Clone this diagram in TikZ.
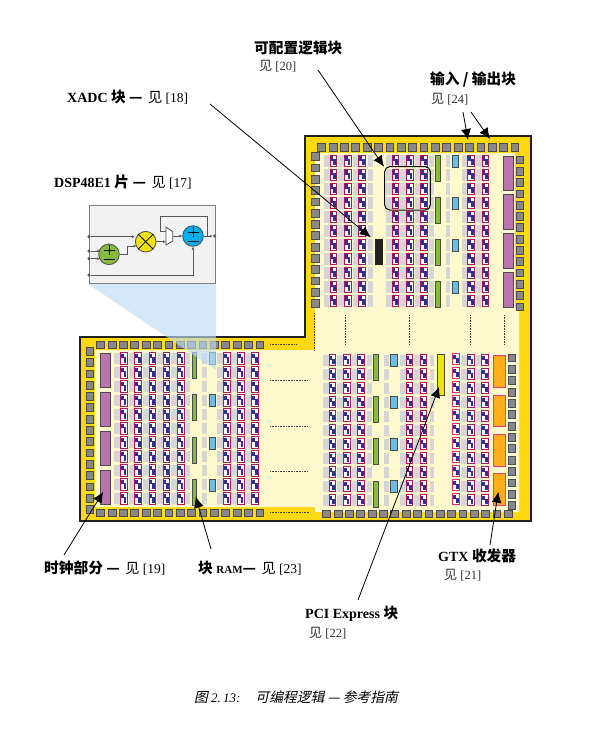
\documentclass[tikz,border=0pt]{standalone}
\usepackage{fontspec}
\usetikzlibrary{calc,arrows.meta}
\setmainfont{Liberation Serif}
\newfontfamily\cjk[Scale=1.05]{Noto Sans CJK SC}
\newfontfamily\cjkslant[FakeSlant=0.22,Scale=1.06]{Noto Sans CJK SC}
\definecolor{chipYellow}{RGB}{255,217,15}
\definecolor{chipCream}{RGB}{255,249,205}
\definecolor{chipEdge}{RGB}{35,32,32}
\definecolor{stripGrey}{RGB}{214,214,214}
\definecolor{clbFrame}{RGB}{176,20,96}
\definecolor{clbNavy}{RGB}{50,46,150}
\definecolor{padGrey}{RGB}{136,136,136}
\definecolor{clockPurple}{RGB}{186,116,176}
\definecolor{bramGreen}{RGB}{134,188,62}
\definecolor{dspBlue}{RGB}{105,189,232}
\definecolor{gtxOrange}{RGB}{253,174,24}
\definecolor{gtxPink}{RGB}{238,60,130}
\definecolor{pciYellow}{RGB}{238,228,10}
\definecolor{wedgeBlue}{RGB}{190,220,245}
\definecolor{addCyan}{RGB}{0,174,239}
\definecolor{seeGrey}{RGB}{50,50,50}
\newcommand{\SeeInline}{\mdseries\fontsize{13.5}{15}\selectfont\hspace{2pt}}
\tikzset{
  padbox/.style={draw=black!70,fill=padGrey,line width=0.9pt},
  blockbox/.style={draw=black!70,line width=0.9pt},
  striprow/.style={fill=stripGrey},
  dotline/.style={densely dotted,line width=0.6pt,black!75},
  callout/.style={line width=0.8pt,-{Latex[length=11pt,width=10pt]}},
  titletext/.style={anchor=west,inner sep=0pt,font=\fontsize{14}{16}\selectfont\bfseries},
  seetext/.style={anchor=west,inner sep=0pt,font=\fontsize{12.5}{15}\selectfont,text=seeGrey},
  mathop/.style={circle,draw=black!70,line width=0.8pt,minimum size=20.6pt,inner sep=0pt},
  wire/.style={draw=black!65,line width=1pt},
  wirein/.style={wire,-{Latex[length=3pt,width=3pt]}},
  portdot/.style={circle,fill=black!65,minimum size=3.5pt,inner sep=0pt}
}
% one slice cell at top left corner (#1,#2)
\newcommand{\ClbCell}[3][clbFrame]{%
  \fill[white] (#2-3.3,#3+0.2) rectangle (#2+3.3,#3+11.4);
  \fill[clbNavy] (#2-2.7,#3+1) rectangle (#2,#3+5.6);
  \fill[clbNavy] (#2,#3+4.2) rectangle (#2+2.7,#3+9.8);
  \draw[#1,line width=1pt] (#2-3.3,#3+0.2) rectangle (#2+3.3,#3+11.4);
}
% grey strip and cells of a column: x, top of the rows
\newcommand{\ClbColumn}[2]{%
  \foreach \row in {0,...,10}{%
    \fill[striprow] (#1-9.4,#2+14*\row) rectangle (#1-3.4,#2+14*\row+11.7);
    \ClbCell{#1}{#2+14*\row}
  }}
% grey strip only: left, right, top
\newcommand{\StripColumn}[3]{%
  \foreach \row in {0,...,10}{%
    \fill[striprow] (#1,#3+14*\row) rectangle (#2,#3+14*\row+11.7);
  }}
\newcommand{\Pad}[2]{\draw[padbox] (#1-3.9,#2-3.9) rectangle (#1+3.9,#2+3.9);}
\newcommand{\AddSign}[1]{%
  \draw[line width=0.9pt] ([shift={(-5.5,-4)}]#1.center) -- ++(11,0);
  \draw[line width=0.9pt] ([shift={(0,-9)}]#1.center) -- ++(0,10);
  \draw[line width=0.9pt] ([shift={(-5.5,5.5)}]#1.center) -- ++(11,0);
}

\begin{document}
\begin{tikzpicture}[x=1pt,y=-1pt]
\useasboundingbox (0,0) rectangle (597,729);

% die outline
\fill[chipYellow] (305,136) -- (531,136) -- (531,521) -- (80,521) -- (80,337) -- (305,337) -- cycle;
\fill[chipCream] (315,153) -- (515,153) -- (515,308) -- (519,308) -- (519,512) -- (315,512)
  -- (315,507) -- (95,507) -- (95,350) -- (315,350) -- cycle;
\draw[chipEdge,line width=2.2pt] (305,136) -- (531,136) -- (531,521) -- (80,521) -- (80,337) -- (305,337) -- cycle;

% upper bank
\foreach \colx in {333.3,347.7,362,395.3,409.7,424,471,485.3}{\ClbColumn{\colx}{155}}
\StripColumn{368}{373}{155}
\StripColumn{429.3}{434}{155}
\StripColumn{445.7}{450}{155}
\foreach \boxy in {155,197,239,281}{\draw[blockbox,fill=bramGreen] (435,\boxy) rectangle (440,\boxy+26);}
\foreach \boxy in {155,197,239,281}{\draw[blockbox,fill=dspBlue] (452.3,\boxy) rectangle (458.7,\boxy+12);}
\foreach \boxy in {156,194.7,233.7,272.7}{\draw[blockbox,fill=clockPurple] (503.3,\boxy) rectangle (513.3,\boxy+34.7);}
\fill[chipEdge] (375,239) rectangle (383.3,265);
\draw[black,line width=1pt,rounded corners=5pt] (384.7,166.7) rectangle (430.3,210);

% lower left bank
\foreach \colx in {123.7,138,152.3,166.3,180.7,226.7,240.7,255}{\ClbColumn{\colx}{352.7}}
\StripColumn{186}{190.3}{352.7}
\StripColumn{202}{207}{352.7}
\foreach \boxy in {352.7,394.7,437,479}{\draw[blockbox,fill=bramGreen] (192.3,\boxy) rectangle (196.7,\boxy+26);}
\foreach \boxy in {352.7,394.7,437,479}{\draw[blockbox,fill=dspBlue] (209,\boxy) rectangle (215.3,\boxy+12);}
\foreach \boxy in {353,392,431,470}{\draw[blockbox,fill=clockPurple] (100.7,\boxy) rectangle (110.7,\boxy+34.7);}

% lower right bank
\foreach \colx in {332.3,346.7,361,409.3,423.3,470.7,485}{\ClbColumn{\colx}{354.5}}
\StripColumn{367}{372}{354.5}
\StripColumn{384}{389}{354.5}
\StripColumn{430}{434}{354.5}
\foreach \row in {0,...,10}{\ClbCell[gtxPink!70!clbFrame]{456}{353.5+14*\row}}
\foreach \boxy in {354.3,396.7,438.7,481}{\draw[blockbox,fill=bramGreen] (373.7,\boxy) rectangle (378.7,\boxy+26);}
\foreach \boxy in {354.5,396.5,438.5,480.5}{\draw[blockbox,fill=dspBlue] (390.3,\boxy) rectangle (397.3,\boxy+12);}
\draw[blockbox,fill=pciYellow] (437,354.3) rectangle (444.7,395);
\foreach \boxy in {355.7,395,434.3,473.3}{\draw[gtxPink,line width=0.8pt,fill=gtxOrange] (493.3,\boxy) rectangle (505,\boxy+31.6);}

% pads
\foreach \i in {0,...,17}{\Pad{321.7+11.37*\i}{147.7}}
\foreach \i in {0,...,13}{\Pad{315.3}{156.7+11.3*\i}}
\foreach \i in {0,...,13}{\Pad{520}{160+11.3*\i}}
\foreach \i in {0,...,14}{\Pad{100.7+11.37*\i}{345}}
\foreach \i in {0,...,14}{\Pad{100.7+11.37*\i}{513}}
\foreach \i in {0,...,14}{\Pad{90}{351.3+11.3*\i}}
\foreach \i in {0,...,16}{\Pad{326.7+11.35*\i}{514}}
\foreach \i in {0,...,13}{\Pad{512}{358+11.35*\i}}

% elided rows and columns
\draw[dotline] (270,344) -- (297,344);
\draw[dotline] (270,512) -- (310,512);
\foreach \doty in {380.7,426,471.3}{\draw[dotline] (270,\doty) -- (307,\doty);}
\foreach \dotx in {345,409,470,504}{\draw[dotline] (\dotx,315) -- (\dotx,345);}
\draw[dotline] (314,313) -- (314,350);

% zoom wedge and DSP inset
\fill[wedgeBlue,opacity=0.65] (88,284) -- (216,284) -- (216,370) -- cycle;
\draw[black!50,fill=black!5,line width=0.8pt] (89,205) rectangle (215.7,283.3);
\node[mathop,fill=bramGreen] (addgreen) at (109,254.3) {};
\node[mathop,fill=pciYellow] (mulyellow) at (145.7,241.7) {};
\node[mathop,fill=addCyan] (addcyan) at (193,236) {};
\AddSign{addgreen}
\AddSign{addcyan}
\draw[line width=0.8pt] (mulyellow.north west) -- (mulyellow.south east);
\draw[line width=0.8pt] (mulyellow.north east) -- (mulyellow.south west);
\draw[black!70,fill=white,line width=0.8pt] (166,227.3) -- (172.7,231.5) -- (172.7,241) -- (166,245) -- cycle;
\coordinate (muxtop) at (166,231.7);
\coordinate (muxlow) at (166,241.7);
\coordinate (muxout) at (172.7,236);
\node[portdot] (portA) at (89,236.7) {};
\node[portdot] (portB) at (89,251) {};
\node[portdot] (portC) at (89,258.7) {};
\node[portdot] (portD) at (89,275) {};
\node[portdot] (portOut) at (214.7,236) {};
\draw[wirein] (portA) -- (mulyellow.west |- portA);
\draw[wirein] (portB) -- (100.3,251);
\draw[wirein] (portC) -- (100.3,258.7);
\draw[wirein] (addgreen.east) -- (127.7,254.3) -- (127.7,246) -- (136.5,246);
\draw[wirein] (mulyellow.east) -- (muxlow);
\draw[wirein] (muxout) -- (addcyan.west);
\draw[wirein] (addcyan.east) -- (portOut);
\draw[wire] (207.3,236) -- (207.3,216.7) -- (160.7,216.7) -- (160.7,231.7) -- (muxtop);
\draw[wirein] (portD) -- (addcyan.south |- portD) -- (addcyan.south);

% labels
\node[titletext] (clblabel) at (254,48) {\cjk 可配置逻辑块};
\node[seetext] (clbsee) at (259,66) {{\cjk 见} [20]};
\node[titletext] (iolabel) at (430,79) {{\cjk 输入 / 输出块}};
\node[seetext] (iosee) at (431,99) {{\cjk 见} [24]};
\node[titletext] (xadclabel) at (67,97) {XADC {\cjk 块 —} \SeeInline{\cjk 见} [18]};
\node[titletext] (dsplabel) at (54,182) {DSP48E1 {\cjk 片 —} \SeeInline{\cjk 见} [17]};
\node[titletext] (clocklabel) at (44,568) {{\cjk 时钟部分 —} \SeeInline{\cjk 见} [19]};
\node[titletext] (ramlabel) at (198,568) {{\cjk 块} {\fontsize{11}{13}\selectfont RAM}{\cjk —} \SeeInline{\cjk 见} [23]};
\node[titletext] (gtxlabel) at (438,556) {GTX {\cjk 收发器}};
\node[seetext] (gtxsee) at (444,575) {{\cjk 见} [21]};
\node[titletext] (pcilabel) at (305,614) {PCI Express {\cjk 块}};
\node[seetext] (pcisee) at (309,633) {{\cjk 见} [22]};
\node[anchor=west,inner sep=0pt,font=\fontsize{13}{15}\selectfont\itshape] (caption) at (194,697) {{\cjkslant 图} 2.\,13:\hspace{15pt}{\cjkslant 可编程逻辑 — 参考指南}};

% callouts
\coordinate (clbtail) at (318,70);      \coordinate (clbhead) at (384,166.7);
\coordinate (xadctail) at (210,104);    \coordinate (xadchead) at (370.7,237.3);
\coordinate (iotailA) at (463,112);     \coordinate (ioheadA) at (468,140);
\coordinate (iotailB) at (471,112);     \coordinate (ioheadB) at (490,139);
\coordinate (clocktail) at (64,555);    \coordinate (clockhead) at (103.3,491.7);
\coordinate (ramtail) at (211,549);     \coordinate (ramhead) at (195.7,496.7);
\coordinate (pcitail) at (358,600);     \coordinate (pcihead) at (439.3,386.7);
\coordinate (gtxtail) at (490,545);     \coordinate (gtxhead) at (498.3,491.7);
\draw[callout] (clbtail) -- (clbhead);
\draw[callout] (xadctail) -- (xadchead);
\draw[callout] (iotailA) -- (ioheadA);
\draw[callout] (iotailB) -- (ioheadB);
\draw[callout] (clocktail) -- (clockhead);
\draw[callout] (ramtail) -- (ramhead);
\draw[callout] (pcitail) -- (pcihead);
\draw[callout] (gtxtail) -- (gtxhead);
\end{tikzpicture}
\end{document}
